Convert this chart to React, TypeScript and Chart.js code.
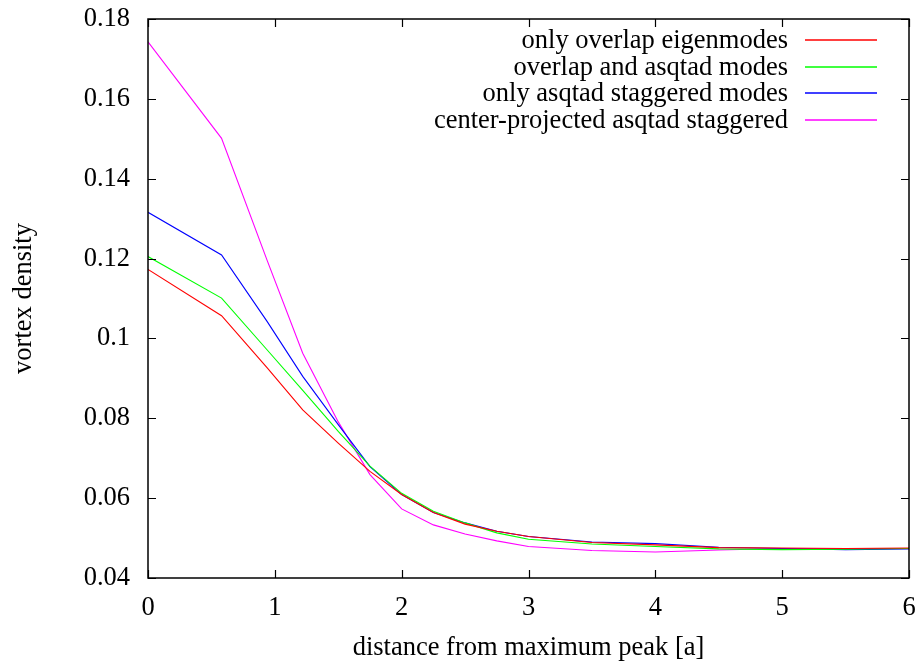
import React, { useEffect, useRef } from "react";
import { Chart, registerables } from "chart.js";

Chart.register(...registerables);

const distances = [0, 0.58, 0.94, 1.22, 1.5, 1.75, 2, 2.25, 2.5, 2.75, 3, 3.5, 4, 4.5, 5, 5.5, 6];
const onlyOverlap = [0.1173, 0.1057, 0.0926, 0.0821, 0.0738, 0.0667, 0.0609, 0.0564, 0.0535, 0.0517, 0.0504, 0.0489, 0.0483, 0.0476, 0.0475, 0.0474, 0.0475];
const overlapAsqtad = [0.1205, 0.1101, 0.0971, 0.087, 0.0767, 0.068, 0.0612, 0.0567, 0.0538, 0.0513, 0.0497, 0.0485, 0.0479, 0.0473, 0.0471, 0.0472, 0.0474];
const onlyAsqtad = [0.1316, 0.1209, 0.1042, 0.0905, 0.0784, 0.0679, 0.0609, 0.0564, 0.0538, 0.0517, 0.0504, 0.049, 0.0486, 0.0477, 0.0474, 0.0471, 0.0473];
const centerProjected = [0.1743, 0.1501, 0.1195, 0.0963, 0.0791, 0.0659, 0.0573, 0.0533, 0.051, 0.0493, 0.0479, 0.0469, 0.0465, 0.047, 0.0474, 0.0474, 0.0474];

const seriesNames = [
  "only overlap eigenmodes",
  "overlap and asqtad modes",
  "only asqtad staggered modes",
  "center-projected asqtad staggered",
];
const seriesColors = ["#ff0000", "#00ff00", "#0000ff", "#ff00ff"];
const seriesValues = [onlyOverlap, overlapAsqtad, onlyAsqtad, centerProjected];

const xTicks = [0, 1, 2, 3, 4, 5, 6];
const yTicks = [0.04, 0.06, 0.08, 0.1, 0.12, 0.14, 0.16, 0.18];
const xTitle = "distance from maximum peak [a]";
const yTitle = "vortex density";

const FONT = "'Liberation Serif', 'DejaVu Serif', serif";
const FS = 26.5;

const gnuplotPlugin = {
  id: "gnuplotFrame",
  afterDraw(chart: any) {
    const { ctx, chartArea } = chart;
    const { left, right, top, bottom } = chartArea;
    const xs = chart.scales.x;
    const ys = chart.scales.y;
    ctx.save();
    ctx.strokeStyle = "#000";
    ctx.lineWidth = 1.5;
    ctx.strokeRect(left, top, right - left, bottom - top);
    ctx.lineWidth = 1.2;
    const tl = 8;
    ctx.beginPath();
    xTicks.forEach((v) => {
      const px = Math.round(xs.getPixelForValue(v)) + 0.5;
      ctx.moveTo(px, bottom);
      ctx.lineTo(px, bottom - tl);
      ctx.moveTo(px, top);
      ctx.lineTo(px, top + tl);
    });
    yTicks.forEach((v) => {
      const py = Math.round(ys.getPixelForValue(v)) + 0.5;
      ctx.moveTo(left, py);
      ctx.lineTo(left + tl, py);
      ctx.moveTo(right, py);
      ctx.lineTo(right - tl, py);
    });
    ctx.stroke();

    // legend
    ctx.font = `${FS}px ${FONT}`;
    ctx.textAlign = "right";
    ctx.textBaseline = "middle";
    seriesNames.forEach((name, i) => {
      const y = 40 + i * 26.7;
      ctx.fillStyle = "#000";
      ctx.fillText(name, 788, y + 1);
      ctx.beginPath();
      ctx.strokeStyle = seriesColors[i];
      ctx.lineWidth = 1.4;
      ctx.moveTo(805, Math.round(y));
      ctx.lineTo(877, Math.round(y));
      ctx.stroke();
    });

    // axis titles
    ctx.fillStyle = "#000";
    ctx.textAlign = "center";
    ctx.textBaseline = "middle";
    ctx.fillText(xTitle, (left + right) / 2, 648);
    ctx.translate(24, (top + bottom) / 2);
    ctx.rotate(-Math.PI / 2);
    ctx.fillText(yTitle, 0, 0);
    ctx.restore();
  },
};

export default function App() {
  const ref = useRef<HTMLCanvasElement | null>(null);
  useEffect(() => {
    if (!ref.current) return;
    const chart = new Chart(ref.current, {
      type: "line",
      data: {
        datasets: seriesNames.map((name, i) => ({
          label: name,
          data: distances.map((d, j) => ({ x: d, y: seriesValues[i][j] })),
          borderColor: seriesColors[i],
          backgroundColor: seriesColors[i],
          borderWidth: 1.1,
          pointRadius: 0,
          tension: 0,
          fill: false,
        })),
      },
      options: {
        animation: false,
        responsive: false,
        layout: { padding: { left: 0, right: 13, top: 19, bottom: 0 } },
        plugins: { legend: { display: false }, tooltip: { enabled: false } },
        scales: {
          x: {
            type: "linear",
            min: 0,
            max: 6,
            afterFit: (s: any) => {
              s.height = 84;
              s.paddingLeft = 0;
              s.paddingRight = 0;
            },
            afterBuildTicks: (s: any) => {
              s.ticks = xTicks.map((v) => ({ value: v }));
            },
            grid: { display: false, drawTicks: false },
            border: { display: false },
            ticks: {
              padding: 14,
              color: "#000",
              font: { family: FONT, size: FS },
              callback: (v: any) => String(v),
            },
          },
          y: {
            type: "linear",
            min: 0.04,
            max: 0.18,
            afterFit: (s: any) => {
              s.width = 148;
              s.paddingTop = 0;
              s.paddingBottom = 0;
            },
            afterBuildTicks: (s: any) => {
              s.ticks = yTicks.map((v) => ({ value: v }));
            },
            grid: { display: false, drawTicks: false },
            border: { display: false },
            ticks: {
              padding: 18,
              color: "#000",
              font: { family: FONT, size: FS },
              callback: (v: any) => String(Number(Number(v).toFixed(2))),
            },
          },
        },
      },
      plugins: [gnuplotPlugin],
    });
    return () => chart.destroy();
  }, []);
  return (
    <div style={{ position: "fixed", left: 0, top: 0, width: 922, height: 662, background: "#fff" }}>
      <canvas ref={ref} width={922} height={662} style={{ display: "block" }} />
    </div>
  );
}
